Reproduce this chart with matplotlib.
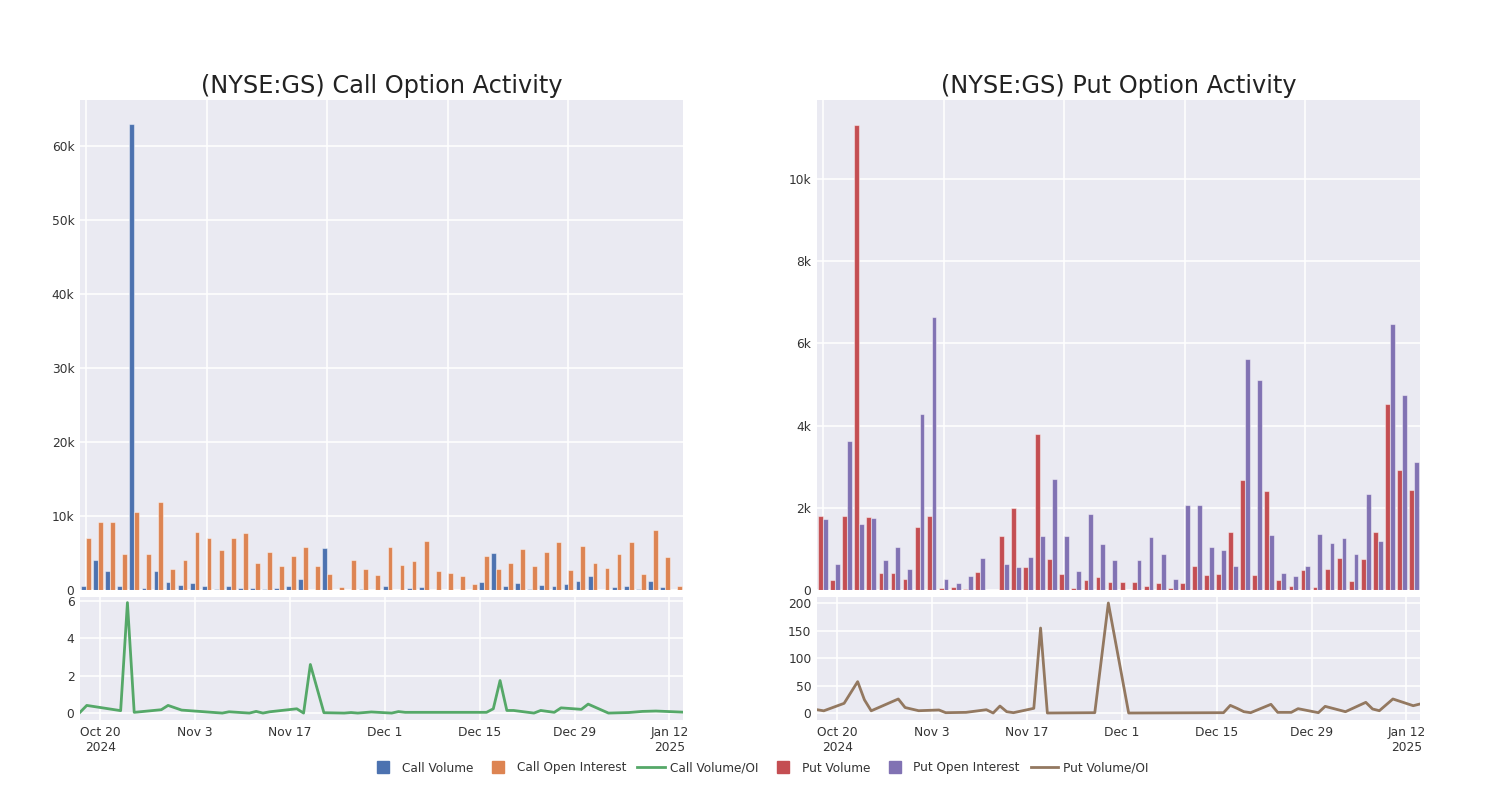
import matplotlib
matplotlib.use('Agg')
import matplotlib.pyplot as plt
from matplotlib.lines import Line2D
import numpy as np
import pandas as pd

# bar values (in thousands), one per category (50 trading days)
call_vol = [0.54, 4.0, 2.5, 0.6, 62.9, 0.3, 2.5, 1.1, 0.7, 0.95,
            0.55, 0.1, 0.6, 0.25, 0.3, 0.1, 0.3, 0.55, 1.5, 0.05,
            5.7, 0.0, 0.05, 0.1, 0.05, 0.5, 0.05, 0.3, 0.35, 0.05,
            0.02, 0.02, 0.05, 1.1, 5.0, 0.6, 1.0, 0.1, 0.65, 0.5,
            0.75, 1.25, 1.85, 0.05, 0.35, 0.6, 0.15, 1.2, 0.4, 0.05]
call_oi = [7.0, 9.2, 9.2, 4.8, 10.6, 4.9, 11.9, 2.8, 4.1, 7.8,
           7.0, 5.4, 7.0, 7.7, 3.6, 5.1, 3.3, 4.6, 5.8, 3.3,
           2.1, 0.4, 4.1, 2.8, 2.0, 5.8, 3.4, 3.9, 6.6, 2.5,
           2.25, 1.85, 0.8, 4.6, 2.8, 3.6, 5.6, 3.2, 5.2, 6.5,
           2.7, 5.9, 3.7, 3.0, 4.9, 6.45, 2.1, 8.05, 4.5, 0.6]
put_vol = [1.8, 0.24, 1.81, 11.31, 1.77, 0.41, 0.41, 0.26, 1.53, 1.8,
           0.04, 0.07, 0.03, 0.45, 0.0, 1.31, 2.0, 0.56, 3.8, 0.75,
           0.39, 0.05, 0.24, 0.32, 0.19, 0.19, 0.19, 0.1, 0.16, 0.04,
           0.18, 0.58, 0.37, 0.39, 1.41, 2.67, 0.36, 2.42, 0.24, 0.09,
           0.49, 0.08, 0.5, 0.78, 0.21, 0.75, 1.4, 4.53, 2.93, 2.44]
put_oi = [1.73, 0.63, 3.63, 1.6, 1.74, 0.74, 1.04, 0.52, 4.27, 6.64,
          0.27, 0.16, 0.33, 0.79, 0.0, 0.64, 0.57, 0.8, 1.32, 2.69,
          1.32, 0.46, 1.86, 1.13, 0.74, 0.0, 0.74, 1.29, 0.88, 0.26,
          2.07, 2.06, 1.05, 0.98, 0.59, 5.62, 5.12, 1.35, 0.41, 0.35,
          0.58, 1.37, 1.14, 1.27, 0.88, 2.33, 1.19, 6.48, 4.75, 3.11]

# volume / open interest lines
call_dates = ['2024-10-17', '2024-10-18', '2024-10-23', '2024-10-24', '2024-10-25',
              '2024-10-29', '2024-10-30', '2024-11-01', '2024-11-07', '2024-11-08',
              '2024-11-11', '2024-11-12', '2024-11-13', '2024-11-14', '2024-11-18',
              '2024-11-19', '2024-11-20', '2024-11-22', '2024-11-25', '2024-11-26',
              '2024-11-27', '2024-11-29', '2024-12-02', '2024-12-03', '2024-12-04',
              '2024-12-16', '2024-12-17', '2024-12-18', '2024-12-19', '2024-12-20',
              '2024-12-23', '2024-12-24', '2024-12-26', '2024-12-27', '2024-12-30',
              '2024-12-31', '2025-01-03', '2025-01-06', '2025-01-07', '2025-01-08',
              '2025-01-10', '2025-01-14']
call_ratio = [0.04, 0.41, 0.13, 5.91, 0.04, 0.18, 0.41, 0.16, 0.0, 0.07,
              0.0, 0.09, 0.0, 0.07, 0.23, 0.0, 2.6, 0.02, 0.0, 0.03,
              0.0, 0.06, 0.0, 0.08, 0.04, 0.04, 0.23, 1.74, 0.14, 0.14,
              0.0, 0.14, 0.04, 0.28, 0.2, 0.48, 0.0, 0.03, 0.06, 0.09,
              0.11, 0.05]
put_dates = ['2024-10-17', '2024-10-18', '2024-10-21', '2024-10-23', '2024-10-24',
             '2024-10-25', '2024-10-29', '2024-10-30', '2024-11-01', '2024-11-04',
             '2024-11-05', '2024-11-08', '2024-11-11', '2024-11-12', '2024-11-13',
             '2024-11-14', '2024-11-15', '2024-11-18', '2024-11-19', '2024-11-20',
             '2024-11-27', '2024-11-29', '2024-12-02', '2024-12-16', '2024-12-17',
             '2024-12-18', '2024-12-19', '2024-12-20', '2024-12-23', '2024-12-24',
             '2024-12-26', '2024-12-27', '2024-12-30', '2024-12-31', '2025-01-03',
             '2025-01-06', '2025-01-07', '2025-01-08', '2025-01-10', '2025-01-13',
             '2025-01-14']
put_ratio = [6, 4, 17.6, 57, 24, 4, 25.5, 10, 4.2, 5.5,
             0.6, 1.2, 6, 0, 12.7, 2.4, 0.6, 8.5, 154.5, 0,
             0.6, 200, 0, 0.6, 13.9, 8.5, 2.4, 0.6, 15.8, 1.2,
             1.2, 7.9, 0.6, 12.1, 2.4, 19.4, 7.3, 4.2, 25.5, 13.3,
             16.4]

date_ticks = ['2024-10-20', '2024-11-03', '2024-11-17', '2024-12-01',
              '2024-12-15', '2024-12-29', '2025-01-12']
date_labels = ['Oct 20\n2024', 'Nov 3', 'Nov 17', 'Dec 1', 'Dec 15', 'Dec 29', 'Jan 12\n2025']

BG = '#EAEAF2'
TXT = '#333333'
plt.rcParams['font.family'] = 'DejaVu Sans'

fig = plt.figure(figsize=(15, 8), dpi=100)


def style(ax):
    ax.set_facecolor(BG)
    for s in ax.spines.values():
        s.set_visible(False)
    ax.grid(True, color='white', linewidth=1.1)
    ax.set_axisbelow(True)
    ax.tick_params(length=0, labelsize=8.8, labelcolor=TXT, pad=4)


def bar_panel(rect, vol, oi, c1, c2, ymax, yticks, ylabels, title):
    ax = fig.add_axes(rect)
    style(ax)
    x = np.arange(len(vol))
    edge = (1, 1, 1, 0.45)
    ax.bar(x - 0.2, np.array(vol) * 1000, width=0.4, color=c1, edgecolor=edge, linewidth=0.8)
    ax.bar(x + 0.2, np.array(oi) * 1000, width=0.4, color=c2, edgecolor=edge, linewidth=0.8)
    ax.set_xlim(-0.5, len(vol) - 0.5)
    ax.set_xticks([0, 10, 20, 30, 40])
    ax.set_xticklabels([])
    ax.set_ylim(0, ymax)
    ax.set_yticks(yticks)
    ax.set_yticklabels(ylabels)
    ax.set_title(title, fontsize=17.3, color='#222222', pad=5)
    return ax


def line_panel(rect, dates, vals, color, ylim, yticks):
    ax = fig.add_axes(rect)
    style(ax)
    d = pd.to_datetime(dates)
    ax.plot(d, vals, color=color, linewidth=2)
    ax.set_xlim(pd.Timestamp('2024-10-17'), pd.Timestamp('2025-01-14'))
    ax.set_xticks(pd.to_datetime(date_ticks))
    ax.set_xticklabels(date_labels)
    ax.set_ylim(*ylim)
    ax.set_yticks(yticks)
    return ax


bar_panel([80 / 1500, 210 / 800, 603 / 1500, 490 / 800], call_vol, call_oi,
          '#4C72B0', '#DD8452', 66200, [0, 10000, 20000, 30000, 40000, 50000, 60000],
          ['0', '10k', '20k', '30k', '40k', '50k', '60k'], '(NYSE:GS) Call Option Activity')
bar_panel([817 / 1500, 210 / 800, 603 / 1500, 490 / 800], put_vol, put_oi,
          '#C44E52', '#8172B3', 11920, [0, 2000, 4000, 6000, 8000, 10000],
          ['0', '2k', '4k', '6k', '8k', '10k'], '(NYSE:GS) Put Option Activity')

line_panel([80 / 1500, 80 / 800, 603 / 1500, 123 / 800], call_dates, call_ratio,
           '#55A868', (-0.37, 6.21), [0, 2, 4, 6])
line_panel([817 / 1500, 80 / 800, 603 / 1500, 123 / 800], put_dates, put_ratio,
           '#937860', (-12.7, 210.9), [0, 50, 100, 150, 200])

handles = [
    Line2D([], [], marker='s', linestyle='none', color='#4C72B0', markersize=9),
    Line2D([], [], marker='s', linestyle='none', color='#DD8452', markersize=9),
    Line2D([], [], color='#55A868', linewidth=2),
    Line2D([], [], marker='s', linestyle='none', color='#C44E52', markersize=9),
    Line2D([], [], marker='s', linestyle='none', color='#8172B3', markersize=9),
    Line2D([], [], color='#937860', linewidth=2),
]
labels = ['Call Volume', 'Call Open Interest', 'Call Volume/OI',
          'Put Volume', 'Put Open Interest', 'Put Volume/OI']
fig.legend(handles, labels, loc='center', bbox_to_anchor=(0.506, 0.04), ncol=6,
           frameon=False, fontsize=8.7, handlelength=2.3, handletextpad=0.4,
           columnspacing=0.9, labelcolor=TXT)

fig.savefig('out.png', dpi=100, facecolor='white')
